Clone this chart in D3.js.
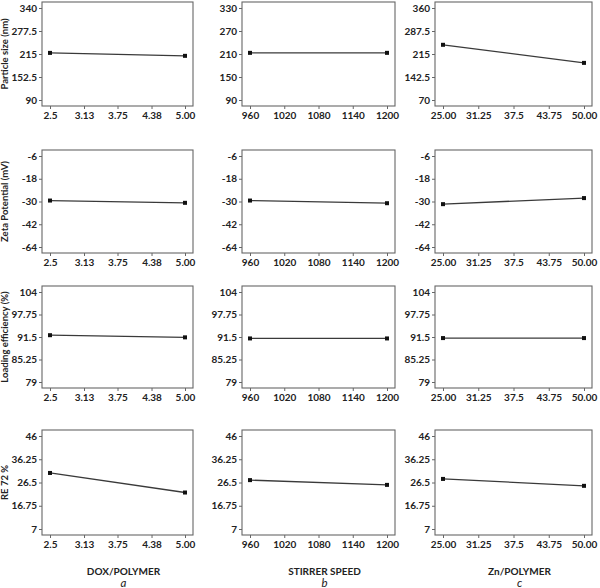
<!DOCTYPE html>
<html>
<head>
<meta charset="utf-8">
<script src="https://cdn.jsdelivr.net/npm/d3@7"></script>
<style>
  html, body { margin: 0; padding: 0; background: #fff; }
  svg { display: block; }
</style>
</head>
<body>
<div id="chart"></div>
<script>
// Main-effects grid: 4 responses (rows) x 3 factors (columns)
const rowTitles  = ['Particle size (nm)', 'Zeta Potential (mV)', 'Loading efficiency (%)', 'RE 72 %'];
const colTitles  = ['DOX/POLYMER', 'STIRRER SPEED', 'Zn/POLYMER'];
const colLetters = ['a', 'b', 'c'];

// factor levels (x of the two points) and x tick labels per column
const xLevels = [[2.5, 5.0], [960, 1200], [25, 50]];
const xTicks = [
  [2.5, 3.13, 3.75, 4.38, 5.0],
  [960, 1020, 1080, 1140, 1200],
  [25, 31.25, 37.5, 43.75, 50]
];
const xTickLabels = [
  ['2.5', '3.13', '3.75', '4.38', '5.00'],
  ['960', '1020', '1080', '1140', '1200'],
  ['25.00', '31.25', '37.5', '43.75', '50.00']
];

// y ticks per row / column (top to bottom, as printed)
const yTicks = [
  [[340, 277.5, 215, 152.5, 90], [330, 270, 210, 150, 90], [360, 287.5, 215, 142.5, 70]],
  [[-6, -18, -30, -42, -64], [-6, -18, -30, -42, -64], [-6, -18, -30, -42, -64]],
  [[104, 97.75, 91.5, 85.25, 79], [104, 97.75, 91.5, 85.25, 79], [104, 97.75, 91.5, 85.25, 79]],
  [[46, 36.25, 26.5, 16.75, 7], [46, 36.25, 26.5, 16.75, 7], [46, 36.25, 26.5, 16.75, 7]]
];

// mean response at low / high level
const particleSize = [[218, 210], [213, 213], [244, 187]];
const zetaPotential = [[-29.5, -30.7], [-29.5, -30.9], [-31.4, -28.2]];
const loadingEff = [[92.0, 91.4], [91.1, 91.1], [91.2, 91.2]];
const re72 = [[30.5, 22.3], [27.5, 25.5], [28.0, 25.1]];
const responses = [particleSize, zetaPotential, loadingEff, re72];

// layout
const W = 600, H = 588;
const colBox = [[42, 193], [242, 395], [435, 592]];
const rowBox = [[2, 106], [150, 253], [286, 388], [430, 535]];
const PAD_X = 8, PAD_Y = 6;
const FONT = "Lato, 'Open Sans', sans-serif";
const INK = '#222';
const LINE = '#3a3a3a';
const FRAME = '#666';

const svg = d3.select('#chart').append('svg')
  .attr('width', W).attr('height', H)
  .attr('viewBox', `0 0 ${W} ${H}`);

responses.forEach((resp, r) => {
  const [top, bottom] = rowBox[r];

  colTitles.forEach((_, c) => {
    const [left, right] = colBox[c];
    const g = svg.append('g');

    const x = d3.scaleLinear()
      .domain(d3.extent(xLevels[c]))
      .range([left + PAD_X, right - PAD_X]);

    // ticks are printed evenly spaced, so map them piecewise
    const ticks = yTicks[r][c];
    const asc = ticks.slice().reverse();
    const step = (bottom - top - 2 * PAD_Y) / (asc.length - 1);
    const y = d3.scaleLinear()
      .domain(asc)
      .range(asc.map((_, i) => bottom - PAD_Y - i * step));

    // frame
    g.append('rect')
      .attr('x', left).attr('y', top)
      .attr('width', right - left).attr('height', bottom - top)
      .attr('fill', 'none')
      .attr('stroke', FRAME)
      .attr('stroke-width', 1.1);

    // axes
    const yAxis = g.append('g')
      .attr('transform', `translate(${left},0)`)
      .call(d3.axisLeft(y).tickValues(ticks).tickSize(3).tickPadding(2)
        .tickFormat(d => String(d)));
    const xAxis = g.append('g')
      .attr('transform', `translate(0,${bottom})`)
      .call(d3.axisBottom(x).tickValues(xTicks[c]).tickSize(3).tickPadding(3)
        .tickFormat((d, i) => xTickLabels[c][i]));

    [xAxis, yAxis].forEach(ax => {
      ax.select('.domain').remove();
      ax.selectAll('line').attr('stroke', FRAME);
      ax.selectAll('text')
        .style('font-family', FONT)
        .style('font-size', '10px')
        .style('font-weight', 'bold')
        .attr('fill', INK);
    });

    // main effect line
    const pts = xLevels[c].map((xv, i) => ({ x: xv, y: resp[c][i] }));
    g.append('path')
      .datum(pts)
      .attr('fill', 'none')
      .attr('stroke', LINE)
      .attr('stroke-width', 1.3)
      .attr('d', d3.line().x(d => x(d.x)).y(d => y(d.y)));

    g.selectAll('rect.pt')
      .data(pts)
      .join('rect')
      .attr('class', 'pt')
      .attr('x', d => x(d.x) - 2)
      .attr('y', d => y(d.y) - 2)
      .attr('width', 4).attr('height', 4)
      .attr('fill', '#111');
  });

  // response title (first column only)
  svg.append('text')
    .attr('transform', `translate(6,${(top + bottom) / 2}) rotate(-90)`)
    .attr('text-anchor', 'middle')
    .attr('dominant-baseline', 'middle')
    .style('font-family', FONT)
    .style('font-size', '9.5px')
    .style('font-weight', 'bold')
    .attr('fill', INK)
    .text(rowTitles[r]);
});

// factor titles and panel letters
colTitles.forEach((t, c) => {
  const cx = (colBox[c][0] + colBox[c][1]) / 2 + 6;
  svg.append('text')
    .attr('x', cx).attr('y', 575)
    .attr('text-anchor', 'middle')
    .style('font-family', FONT)
    .style('font-size', '10px')
    .style('font-weight', 'bold')
    .attr('fill', INK)
    .text(t);
  svg.append('text')
    .attr('x', cx).attr('y', 587)
    .attr('text-anchor', 'middle')
    .style('font-family', FONT)
    .style('font-size', '11.5px')
    .style('font-style', 'italic')
    .attr('fill', INK)
    .text(colLetters[c]);
});
</script>
</body>
</html>
